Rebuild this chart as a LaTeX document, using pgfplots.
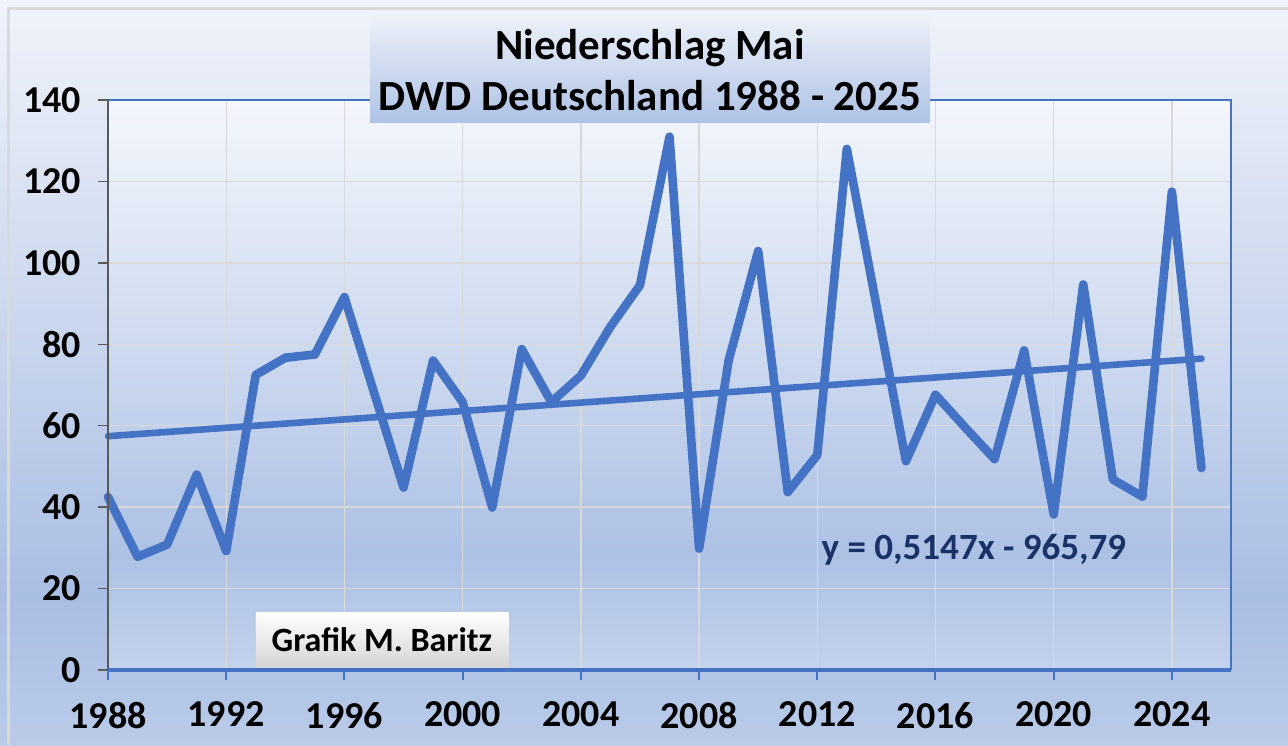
\documentclass[border=0pt]{standalone}
\usepackage{fontspec}
\setmainfont{Carlito}
\usepackage{pgfplots}
\usepackage{pgfplotstable}
\pgfplotsset{compat=1.18}

\definecolor{lineblue}{HTML}{4472C4}
\definecolor{eqnavy}{HTML}{1B3268}
\definecolor{gridgray}{HTML}{D9D9D9}
\definecolor{axisgray}{HTML}{595959}
\definecolor{bgtop}{HTML}{F0F3FA}
\definecolor{bgmid}{HTML}{A9BEE3}
\definecolor{bgbot}{HTML}{BACBE9}
\definecolor{patop}{HTML}{F4F7FC}
\definecolor{pamid}{HTML}{ADC1E5}
\definecolor{pabot}{HTML}{C3D2EC}
\definecolor{titletop}{HTML}{EDF1F9}
\definecolor{titlebot}{HTML}{AEC2E5}
\definecolor{boxgray}{HTML}{D4D4D4}

% vertical shadings: 25bp = bottom edge, 75bp = top edge
\pgfdeclareverticalshading{outerbg}{100bp}{color(0bp)=(bgbot); color(25bp)=(bgbot);
  color(35bp)=(bgmid); color(75bp)=(bgtop); color(100bp)=(bgtop)}
\pgfdeclareverticalshading{plotbg}{100bp}{color(0bp)=(pabot); color(25bp)=(pabot);
  color(35bp)=(pamid); color(75bp)=(patop); color(100bp)=(patop)}

% precipitation in May, mm
\pgfplotstableread{
year mm
1988 42.5
1989 27.8
1990 30.8
1991 48.0
1992 29.2
1993 72.5
1994 76.7
1995 77.5
1996 91.6
1997 68.2
1998 44.8
1999 76.0
2000 65.8
2001 39.9
2002 78.8
2003 65.8
2004 72.3
2005 84.3
2006 94.5
2007 131.0
2008 29.8
2009 76.0
2010 102.9
2011 43.7
2012 52.8
2013 128.0
2014 89.6
2015 51.3
2016 67.6
2017 59.6
2018 51.8
2019 78.5
2020 38.2
2021 94.7
2022 46.8
2023 42.6
2024 117.5
2025 49.6
}\maidata

\begin{document}
\begin{tikzpicture}
  \useasboundingbox (0,0) rectangle (644pt,372.5pt);
  \shade[shading=outerbg] (0,0) rectangle (644pt,372.5pt);
  \draw[gridgray, line width=1.5pt] (4pt,0) -- (4pt,368pt) -- (644pt,368pt);

  \begin{axis}[
    at={(54pt,37.5pt)}, anchor=south west,
    scale only axis, width=561.5pt, height=285pt,
    xmin=1988, xmax=2026, ymin=0, ymax=140,
    xtick={1988,1992,...,2024}, ytick={0,20,...,140},
    grid=major, grid style={gridgray, line width=0.7pt},
    axis line style={draw=none},
    axis background/.style={shading=plotbg},
    tick align=outside, xtick pos=left, ytick pos=left,
    major tick length=5pt,
    x tick style={lineblue, line width=1pt},
    y tick style={axisgray, line width=0.7pt},
    tick label style={font=\bfseries\fontsize{19}{20}\selectfont},
    /pgf/number format/assume math mode=true,
    /pgf/number format/1000 sep={},
    yticklabel style={xshift=-5pt},
    xticklabel style={yshift=-7.5pt},
    clip=false,
  ]
    \addplot[lineblue, line width=4.3pt, line join=round, line cap=round]
      table[x=year, y=mm] {\maidata};
    % linear trend y = 0,5147x - 965,79
    \addplot[lineblue, line width=3.3pt, line cap=round]
      coordinates {(1988,57.43) (2025,76.48)};

    \draw[lineblue, line width=0.8pt] (rel axis cs:0,1) -- (rel axis cs:1,1) -- (rel axis cs:1,0);
    \draw[axisgray, line width=0.9pt] (rel axis cs:0,0) -- (rel axis cs:0,1);
    \draw[lineblue, line width=1.8pt] (rel axis cs:0,0) -- (rel axis cs:1,0);

    \node[eqnavy, font=\bfseries\fontsize{18.5}{20}\selectfont]
      at (axis cs:2017.3,29.5) {y = 0,5147x - 965,79};

    \shade[top color=white, bottom color=boxgray]
      (axis cs:1993,0.6) rectangle (axis cs:2001.55,14.2);
    \node[font=\bfseries\fontsize{17}{18}\selectfont]
      at (axis cs:1997.27,7.4) {Grafik M. Baritz};
  \end{axis}

  \shade[top color=titletop, bottom color=titlebot] (185pt,311pt) rectangle (465pt,365pt);
  \node[align=center, font=\bfseries\fontsize{21.5}{25.5}\selectfont]
    at (325pt,337.5pt) {Niederschlag Mai\\DWD Deutschland 1988 - 2025};
\end{tikzpicture}
\end{document}
